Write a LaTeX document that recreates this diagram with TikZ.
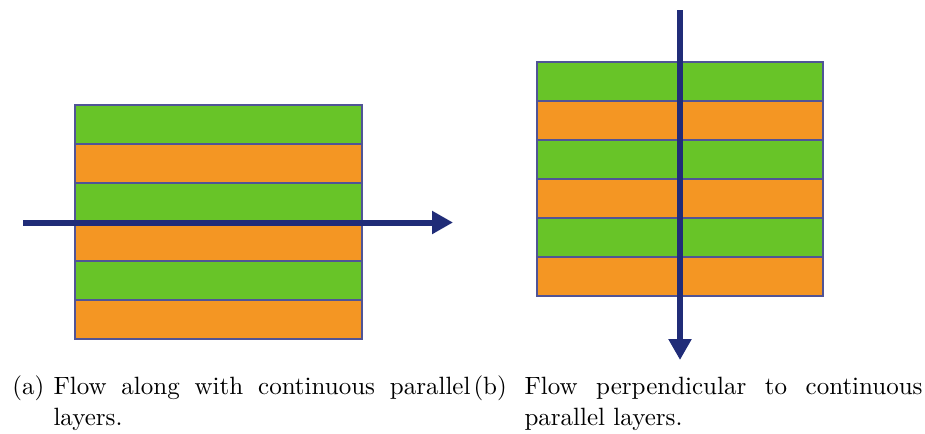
\documentclass[tikz,border=0pt]{standalone}
\usetikzlibrary{arrows.meta}
\definecolor{lgreen}{RGB}{104,196,40}
\definecolor{lorange}{RGB}{244,150,35}
\definecolor{edgeblue}{RGB}{80,84,150}
\definecolor{navy}{RGB}{32,44,120}
\tikzset{
  layerbox/.style={draw=edgeblue, line width=0.6pt},
  flow/.style={draw=navy, line width=2.4pt, -{Triangle[length=8.4pt,width=8.8pt]}},
  captext/.style={anchor=base west, inner sep=0pt, font=\fontsize{10}{12}\selectfont}
}
\begin{document}
\begin{tikzpicture}[x=0.4pt,y=-0.4pt]
\useasboundingbox (0,0) rectangle (925,433);
% left block
\foreach \i/\c in {0/lgreen,1/lorange,2/lgreen,3/lorange,4/lgreen,5/lorange}{
  \path[layerbox, fill=\c] (75,105+39*\i) rectangle (362,144+39*\i);
}
% right block
\foreach \i/\c in {0/lgreen,1/lorange,2/lgreen,3/lorange,4/lgreen,5/lorange}{
  \path[layerbox, fill=\c] (537,62+39*\i) rectangle (823,101+39*\i);
}
\coordinate (a1) at (23,222.5);
\coordinate (a2) at (453,222.5);
\coordinate (b1) at (680,10);
\coordinate (b2) at (680,360);
\draw[flow] (a1) -- (a2);
\draw[flow] (b1) -- (b2);
% captions
\node[captext] (la) at (12,394) {(a)};
\node[captext] (ta1) at (53,394) {\makebox[166.8pt][s]{Flow along with continuous parallel}};
\node[captext] (ta2) at (53,425) {layers.};
\node[captext] (lb) at (473,394) {(b)};
\node[captext] (tb1) at (524,394) {\makebox[159.2pt][s]{Flow perpendicular to continuous}};
\node[captext] (tb2) at (524,425) {parallel layers.};
\end{tikzpicture}
\end{document}
